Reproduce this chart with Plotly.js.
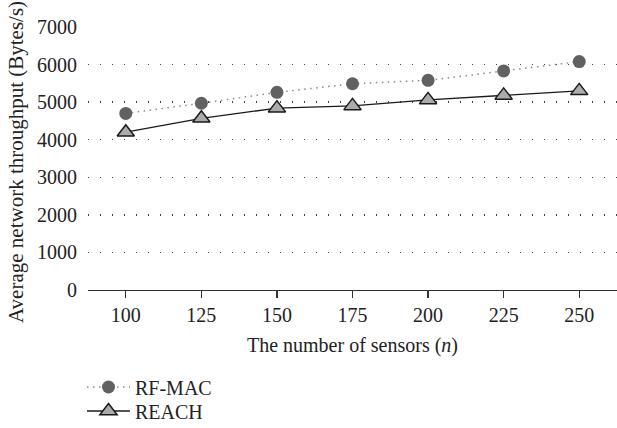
<!DOCTYPE html>
<html>
<head>
<meta charset="utf-8">
<script src="https://cdn.plot.ly/plotly-3.0.1.min.js"></script>
<style>html,body{margin:0;padding:0;background:#fff;}#chart{width:617px;height:428px;}</style>
</head>
<body>
<div id="chart"></div>
<script>
const sensors = [100, 125, 150, 175, 200, 225, 250];
const rfmac = [4700, 4970, 5260, 5490, 5580, 5830, 6080];
const reach = [4200, 4570, 4840, 4900, 5060, 5180, 5300];
const xTicks = [100, 125, 150, 175, 200, 225, 250];
const yTicks = [0, 1000, 2000, 3000, 4000, 5000, 6000, 7000];
const yTitle = 'Average network throughput (Bytes/s)';
const xTitle = 'The number of sensors (<i>n</i>)';

const FONT = 'Liberation Serif, Times New Roman, serif';

const traces = [
  {
    x: sensors, y: rfmac, name: 'RF-MAC', type: 'scatter', mode: 'lines+markers', legend: 'legend',
    line: {color: '#8a8a8a', width: 1.5, dash: '1.5px,4.5px'},
    marker: {symbol: 'circle', size: 13, color: '#616161', line: {width: 0}}
  },
  {
    x: sensors, y: reach, name: 'REACH', type: 'scatter', mode: 'lines+markers', legend: 'legend2',
    line: {color: '#1a1a1a', width: 1.3},
    marker: {symbol: 'triangle-up', size: 15, color: '#ababab', line: {color: '#1a1a1a', width: 1.5}}
  }
];

const legBase = {
  xref: 'container', yref: 'container', xanchor: 'left', yanchor: 'middle',
  bgcolor: 'rgba(0,0,0,0)', borderwidth: 0,
  font: {family: FONT, size: 20, color: '#222'}, itemwidth: 43
};

const layout = {
  width: 617, height: 428,
  margin: {l: 88, r: 0, t: 27, b: 138, autoexpand: false},
  paper_bgcolor: '#fff', plot_bgcolor: '#fff',
  font: {family: FONT, size: 20, color: '#222'},
  showlegend: true,
  legend: Object.assign({}, legBase, {x: 82/617, y: 1 - 387/428}),
  legend2: Object.assign({}, legBase, {x: 82/617, y: 1 - 411/428}),
  xaxis: {
    range: [87.5, 262.5], tickvals: xTicks, ticktext: xTicks.map(String),
    showgrid: false, zeroline: false, showline: true, linecolor: '#333', linewidth: 1.2,
    ticks: 'outside', ticklen: 7, tickcolor: '#333', tickwidth: 1.2,
    tickfont: {family: FONT, size: 20, color: '#222'},
    title: {text: xTitle, font: {family: FONT, size: 20, color: '#222'}, standoff: 12}
  },
  yaxis: {
    range: [0, 7000], tickvals: yTicks, ticktext: yTicks.map(String),
    showgrid: true, gridcolor: '#444', gridwidth: 1.3, griddash: '1.3px,10.7px',
    zeroline: false, showline: false, ticks: 'outside', ticklen: 6, tickcolor: 'rgba(0,0,0,0)',
    tickfont: {family: FONT, size: 20, color: '#222'}
  },
  annotations: [{
    text: yTitle, textangle: -90, showarrow: false,
    xref: 'paper', yref: 'paper', x: (16 - 88) / 529, y: (290 - 162) / 263,
    xanchor: 'center', yanchor: 'middle',
    font: {family: FONT, size: 21, color: '#222'}
  }]
};

Plotly.newPlot('chart', traces, layout, {displayModeBar: false, staticPlot: true});
</script>
</body>
</html>
